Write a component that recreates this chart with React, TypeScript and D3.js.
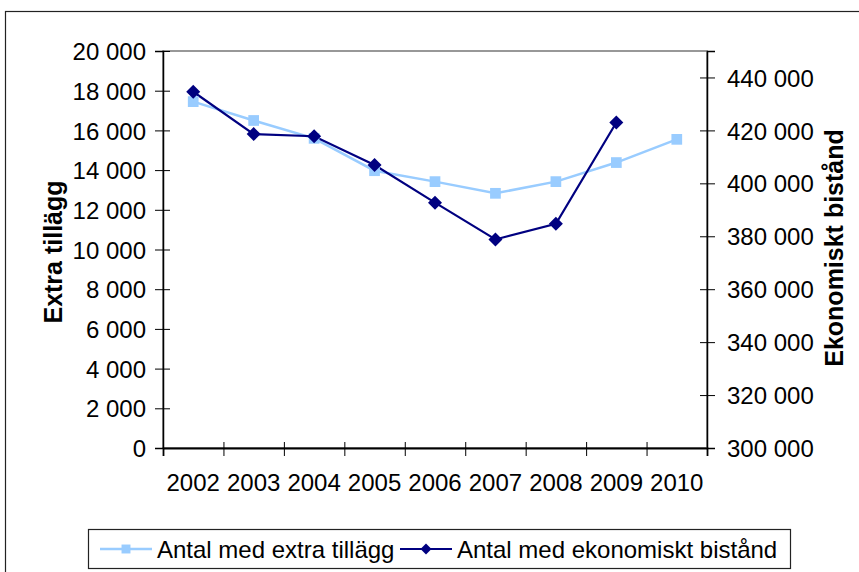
import React, { useRef, useEffect } from "react";
import * as d3 from "d3";

const years = ["2002", "2003", "2004", "2005", "2006", "2007", "2008", "2009", "2010"];
const extraTillagg = [17450, 16500, 15600, 13970, 13420, 12830, 13420, 14380, 15550];
const ekonomisktBistand = [434600, 418600, 417800, 406900, 392700, 378800, 384700, 423000, null];
const leftTicks = [0, 2000, 4000, 6000, 8000, 10000, 12000, 14000, 16000, 18000, 20000];
const rightTicks = [300000, 320000, 340000, 360000, 380000, 400000, 420000, 440000];

const W = 859;
const H = 572;
const plot = { left: 163, right: 707, top: 51, bottom: 448 };
const font = "'Liberation Sans', Arial, sans-serif";
const lightBlue = "#99ccff";
const navy = "#000080";

const locale = d3.formatLocale({ decimal: ",", thousands: " ", grouping: [3], currency: ["", ""] });
const fmt = locale.format(",");

// square turned 45deg, like the Excel diamond marker
const diamondPath = (r: number) => `M0,${-r}L${r},0L0,${r}L${-r},0Z`;

const App = () => {
  const ref = useRef<SVGSVGElement>(null);

  useEffect(() => {
    const svg = d3.select(ref.current);
    svg.selectAll("*").remove();

    const x = d3.scaleBand().domain(years).range([plot.left, plot.right]).padding(0);
    const yL = d3.scaleLinear().domain([0, 20000]).range([plot.bottom, plot.top]);
    const yR = d3.scaleLinear().domain([300000, 450000]).range([plot.bottom, plot.top]);
    const cx = (d: string) => (x(d) as number) + x.bandwidth() / 2;

    // outer chart border
    svg
      .append("rect")
      .attr("x", 5.5)
      .attr("y", 11.5)
      .attr("width", W)
      .attr("height", H)
      .attr("fill", "none")
      .attr("stroke", "#222")
      .attr("stroke-width", 1.2);

    // plot frame (top / right grey)
    svg
      .append("rect")
      .attr("x", plot.left)
      .attr("y", plot.top)
      .attr("width", plot.right - plot.left)
      .attr("height", plot.bottom - plot.top)
      .attr("fill", "none")
      .attr("stroke", "#777")
      .attr("stroke-width", 1.5);

    // left axis
    const gL = svg
      .append("g")
      .attr("transform", `translate(${plot.left},0)`)
      .call(d3.axisLeft(yL).tickValues(leftTicks).tickFormat((d: any) => fmt(d)).tickSize(8).tickPadding(9));
    gL.select(".domain").attr("stroke", "#000").attr("stroke-width", 1.5);
    gL.selectAll(".tick line").attr("x1", 7).attr("stroke", "#000");
    gL.selectAll("text").attr("font-size", 24).attr("font-family", font).attr("fill", "#000").attr("dy", "0.36em");

    // right axis
    const gR = svg
      .append("g")
      .attr("transform", `translate(${plot.right},0)`)
      .call(d3.axisRight(yR).tickValues(rightTicks).tickFormat((d: any) => fmt(d)).tickSize(8).tickPadding(12));
    gR.select(".domain").attr("stroke", "#000").attr("stroke-width", 1.5);
    gR.selectAll(".tick line").attr("x1", -7).attr("stroke", "#000");
    gR.selectAll("text").attr("font-size", 24).attr("font-family", font).attr("fill", "#000").attr("dy", "0.36em");

    // bottom axis
    const xTicks = d3.scaleLinear().domain([0, years.length]).range([plot.left, plot.right]);
    const gB = svg
      .append("g")
      .attr("transform", `translate(0,${plot.bottom})`)
      .call(d3.axisBottom(xTicks).tickValues(d3.range(years.length + 1)).tickFormat(() => "").tickSize(8));
    gB.select(".domain").attr("stroke", "#000").attr("stroke-width", 1.8);
    gB.selectAll(".tick line").attr("y1", -6).attr("stroke", "#000");

    svg
      .append("g")
      .selectAll("text")
      .data(years)
      .enter()
      .append("text")
      .attr("x", (d) => cx(d))
      .attr("y", 491)
      .attr("text-anchor", "middle")
      .attr("font-size", 24)
      .attr("font-family", font)
      .text((d) => d);

    // axis titles
    svg
      .append("text")
      .attr("transform", "translate(62,252) rotate(-90)")
      .attr("text-anchor", "middle")
      .attr("font-size", 25)
      .attr("font-weight", "bold")
      .attr("font-family", font)
      .text("Extra tillägg");
    svg
      .append("text")
      .attr("transform", "translate(843,248) rotate(-90)")
      .attr("text-anchor", "middle")
      .attr("font-size", 25)
      .attr("font-weight", "bold")
      .attr("font-family", font)
      .text("Ekonomiskt bistånd");

    // series 1: extra tillägg
    const line1 = d3
      .line<number>()
      .x((_, i) => cx(years[i]))
      .y((d) => yL(d));
    svg
      .append("path")
      .attr("d", line1(extraTillagg))
      .attr("fill", "none")
      .attr("stroke", lightBlue)
      .attr("stroke-width", 2.5);

    // series 2: ekonomiskt bistånd
    const line2 = d3
      .line<number | null>()
      .defined((d) => d != null)
      .x((_, i) => cx(years[i]))
      .y((d) => yR(d as number));
    svg
      .append("path")
      .attr("d", line2(ekonomisktBistand))
      .attr("fill", "none")
      .attr("stroke", navy)
      .attr("stroke-width", 2.2);

    const square = d3.symbol(d3.symbolSquare, 115);

    svg
      .append("g")
      .selectAll("path")
      .data(extraTillagg)
      .enter()
      .append("path")
      .attr("d", square as any)
      .attr("transform", (d, i) => `translate(${cx(years[i])},${yL(d)})`)
      .attr("fill", lightBlue);

    svg
      .append("g")
      .selectAll("path")
      .data(ekonomisktBistand.filter((d) => d != null) as number[])
      .enter()
      .append("path")
      .attr("d", diamondPath(7))
      .attr("transform", (d, i) => `translate(${cx(years[i])},${yR(d)})`)
      .attr("fill", navy);

    // legend
    const lg = svg.append("g");
    lg.append("rect")
      .attr("x", 88.5)
      .attr("y", 529.5)
      .attr("width", 702)
      .attr("height", 39)
      .attr("fill", "#fff")
      .attr("stroke", "#222")
      .attr("stroke-width", 1.2);
    const items = [
      { label: "Antal med extra tillägg", color: lightBlue, sym: d3.symbol(d3.symbolSquare, 80)(), x: 100, w: 2.5 },
      { label: "Antal med ekonomiskt bistånd", color: navy, sym: diamondPath(5.5), x: 400, w: 2.2 },
    ];
    items.forEach((it) => {
      lg.append("line")
        .attr("x1", it.x)
        .attr("x2", it.x + 52)
        .attr("y1", 549)
        .attr("y2", 549)
        .attr("stroke", it.color)
        .attr("stroke-width", it.w);
      lg.append("path")
        .attr("d", it.sym as any)
        .attr("transform", `translate(${it.x + 26},549)`)
        .attr("fill", it.color);
      lg.append("text")
        .attr("x", it.x + 57)
        .attr("y", 557.5)
        .attr("font-size", 24)
        .attr("font-family", font)
        .text(it.label);
    });
  }, []);

  return (
    <svg
      ref={ref}
      width={W}
      height={H}
      style={{ position: "absolute", left: 0, top: 0, background: "#fff" }}
    ></svg>
  );
};

export default App;
